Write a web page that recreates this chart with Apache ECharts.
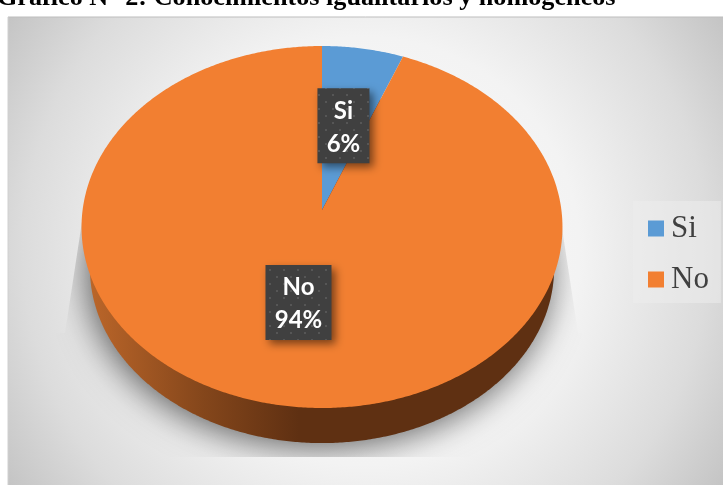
<!DOCTYPE html>
<html><head><meta charset="utf-8">
<style>html,body{margin:0;padding:0;background:#fff}#c{width:723px;height:485px}</style>
<script src="https://cdn.jsdelivr.net/npm/echarts@6/dist/echarts.min.js"></script>
</head><body><div id="c"></div>
<script>
const titleText = 'Gráfico N° 2: Conocimientos igualitarios y homogéneos';
const categories = ['Si', 'No'];
const values = [6, 94];
const sliceColors = ['#5b9bd5', '#f27f31'];

const cx = 322, y0 = 210, A = 239.4, B = 179.4, k = 0.094;
const total = values.reduce((a, b) => a + b, 0);
const pt = (th, f = 1, sx = 1, dy = 0) => {
  const u = f * Math.sin(th), v = f * Math.cos(th), s = 1 / (1 + k * v);
  return [cx + sx * A * u * s, y0 + dy - sx * B * v * s];
};
const deg = Math.PI / 180;
const slicePoints = (a0, a1) => {
  const pts = [pt(0, 0)];
  const n = Math.max(2, Math.ceil((a1 - a0) / (0.5 * deg)));
  for (let i = 0; i <= n; i++) pts.push(pt(a0 + (a1 - a0) * i / n));
  return pts;
};
const ring = (sx, dy) => {
  const pts = [];
  for (let i = 0; i < 720; i++) pts.push(pt(i * 0.5 * deg, 1, sx, dy));
  return pts;
};
const sliceRange = i => {
  let s = 0;
  for (let j = 0; j < i; j++) s += values[j];
  return [s / total * 2 * Math.PI, (s + values[i]) / total * 2 * Math.PI];
};

const tile = document.createElement('canvas');
tile.width = tile.height = 14;
const g = tile.getContext('2d');
g.fillStyle = '#404040'; g.fillRect(0, 0, 14, 14);
g.fillStyle = '#565656'; g.fillRect(3, 3, 2, 2); g.fillRect(10, 10, 2, 2);
const labelFont = 'bold 24px Lato';
const mc = document.createElement('canvas').getContext('2d');
mc.font = labelFont;

const chart = echarts.init(document.getElementById('c'), null, { renderer: 'canvas' });
const sliceSeries = categories.map((name, i) => ({
  type: 'custom', name, coordinateSystem: 'none', z: 5,
  itemStyle: { color: sliceColors[i] }, silent: true,
  data: [values[i]],
  renderItem: () => {
    const [a0, a1] = sliceRange(i);
    return { type: 'polygon', shape: { points: slicePoints(a0, a1) }, style: { fill: sliceColors[i] } };
  }
}));
chart.setOption({
  animation: false,
  graphic: [
    { type: 'rect', z: 0, shape: { x: 8, y: 17, width: 715, height: 468 },
      style: { fill: { type: 'radial', x: 0.5, y: 0.5, r: 0.915, colorStops: [
        { offset: 0, color: '#fcfcfc' }, { offset: 0.5, color: '#f3f3f3' }, { offset: 0.8, color: '#dcdcdc' }, { offset: 1, color: '#c4c4c4' }] } } },
    { type: 'line', z: 1, shape: { x1: 8, y1: 17, x2: 723, y2: 17 }, style: { stroke: '#bdbdbd', lineWidth: 1 } },
    { type: 'line', z: 1, shape: { x1: 8, y1: 17, x2: 8, y2: 485 }, style: { stroke: '#d0d0d0', lineWidth: 1 } },
    { type: 'text', z: 1, x: -3, y: -15, style: { text: titleText, font: 'bold 26.2px "Liberation Serif"', fill: '#000' } }
  ],
  legend: {
    orient: 'vertical', left: 633, top: 201, data: categories, icon: 'rect',
    itemWidth: 16, itemHeight: 16, itemGap: 20, padding: [12, 12, 8, 15],
    backgroundColor: 'rgba(236,236,236,0.55)',
    selectedMode: false,
    textStyle: { fontFamily: 'Liberation Serif', fontSize: 31, color: '#404040', padding: [0, 0, 0, 2] }
  },
  series: [
    { type: 'custom', name: 'sombra', coordinateSystem: 'none', z: 2, silent: true, data: [0],
      renderItem: () => ({
        type: 'group',
        clipPath: { type: 'polygon', shape: { points: [[83, 215], [560, 215], [578, 333], [723, 333], [723, 457], [8, 457], [8, 333], [65, 333]] } },
        children: [{ type: 'polygon', shape: { points: ring(0.965, 41) },
          style: { fill: '#999', shadowColor: 'rgba(0,0,0,0.6)', shadowBlur: 34, shadowOffsetX: -3, shadowOffsetY: 6 } }]
      }) },
    { type: 'custom', name: 'pared', coordinateSystem: 'none', z: 3, silent: true, data: [0],
      renderItem: () => ({ type: 'polygon', shape: { points: ring(0.965, 42) },
        style: { fill: { type: 'linear', global: true, x: 85, y: 0, x2: 560, y2: 0, colorStops: [
          { offset: 0, color: '#bd672a' }, { offset: 0.25, color: '#84461b' }, { offset: 0.45, color: '#5f3012' }, { offset: 1, color: '#5f3012' }] } } }) },
    ...sliceSeries,
    { type: 'custom', name: 'etiquetas', coordinateSystem: 'none', z: 8, silent: true,
      data: categories.map((c, i) => i),
      renderItem: (p) => {
        const i = p.dataIndex, [a0, a1] = sliceRange(i);
        const c = pt((a0 + a1) / 2, 0.5);
        const pct = Math.round(values[i] / total * 100) + '%';
        const w = Math.round(Math.max(mc.measureText(categories[i]).width, mc.measureText(pct).width)) + 18;
        const h = 75;
        return { type: 'group', children: [
          { type: 'rect', shape: { x: c[0] - w / 2, y: c[1] - h / 2, width: w, height: h },
            style: { fill: { image: tile, repeat: 'repeat' }, shadowColor: 'rgba(0,0,0,0.5)', shadowBlur: 8, shadowOffsetX: 4, shadowOffsetY: 4 } },
          { type: 'text', x: c[0], y: c[1] - 15, style: { text: categories[i], font: labelFont, fill: '#fff', align: 'center', verticalAlign: 'middle' } },
          { type: 'text', x: c[0], y: c[1] + 18, style: { text: pct, font: labelFont, fill: '#fff', align: 'center', verticalAlign: 'middle' } }
        ] };
      } }
  ]
});
</script></body></html>
